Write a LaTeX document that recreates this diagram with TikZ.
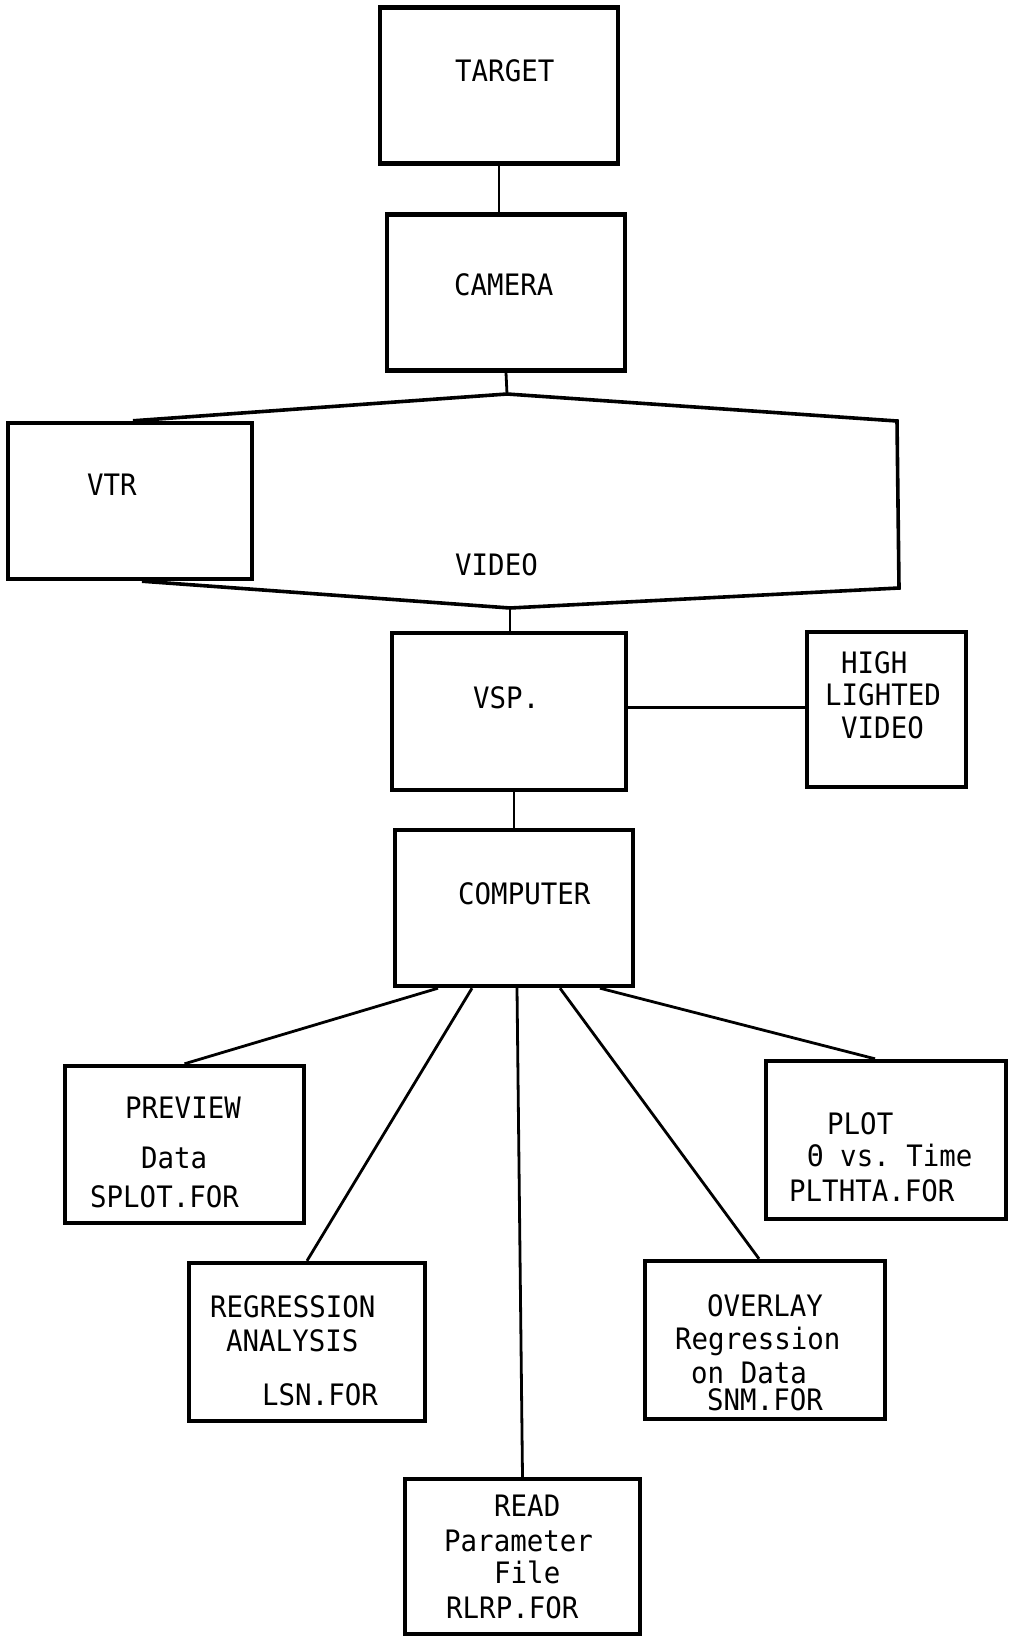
\documentclass[tikz,border=0pt]{standalone}
\usepackage{fontspec}
\newfontfamily\plotfont[FakeStretch=0.93]{DejaVu Sans Mono}
\usepackage{tikz}
\usetikzlibrary{positioning}

\begin{document}
\begin{tikzpicture}[x=1pt, y=-1pt,
    blk/.style={draw, line width=4.4pt, inner sep=0pt, minimum width=238pt, minimum height=156pt},
    txt/.style={inner sep=0pt, anchor=base west, align=left, font=\plotfont\fontsize{29.5}{32}\selectfont},
    link/.style={line width=2.8pt},
    hexa/.style={line width=3.6pt}]

    \useasboundingbox (0,0) rectangle (1013,1637);

    % catena principale
    \node[blk] (target) at (499,85.5) {};
    \node[blk] (camera) at (506,292.5) {};
    \node[blk, minimum width=244pt] (vtr) at (130,501) {};
    \node[blk, minimum width=234pt, minimum height=157pt] (vsp) at (509,711.5) {};
    \node[blk, minimum width=159pt, minimum height=155pt] (hlv) at (886.5,709.5) {};
    \node[blk] (computer) at (514,908) {};

    % programmi
    \node[blk, minimum width=239pt, minimum height=157pt] (preview) at (184.5,1144.5) {};
    \node[blk, minimum width=236pt, minimum height=158pt] (regress) at (307,1342) {};
    \node[blk, minimum width=235pt, minimum height=155pt] (readpar) at (522.5,1556.5) {};
    \node[blk, minimum width=240pt, minimum height=158pt] (overlay) at (765,1340) {};
    \node[blk, minimum width=240pt, minimum height=158pt] (plot) at (886,1140) {};

    % testi (base = ultima riga)
    \node[txt] (targettxt) at (455,82) {TARGET};
    \node[txt] (cameratxt) at (454,295) {CAMERA};
    \node[txt] (vtrtxt) at (87,495) {VTR};
    \node[txt] (videotxt) at (455,575) {VIDEO};
    \node[txt] (vsptxt) at (473,708) {VSP.};
    \node[txt] (hlvtxt) at (825,738) {\hspace*{16pt}HIGH\\LIGHTED\\[1pt]\hspace*{16pt}VIDEO};
    \node[txt] (computertxt) at (458,904) {COMPUTER};
    \node[txt] (previewtxt) at (90,1207) {\hspace*{35pt}PREVIEW\\[18pt]\hspace*{51pt}Data\\[7pt]SPLOT.FOR};
    \node[txt] (regresstxt) at (210,1405) {REGRESSION\\[2pt]\hspace*{16pt}ANALYSIS\\[22pt]\hspace*{52pt}LSN.FOR};
    \node[txt] (readpartxt) at (444,1618) {\hspace*{50pt}READ\\[3pt]Parameter\\\hspace*{50pt}File\\[3pt]\hspace*{2pt}RLRP.FOR};
    \node[txt] (overlaytxt) at (675,1410) {\hspace*{32pt}OVERLAY\\[1pt]Regression\\[2pt]\hspace*{16pt}on Data\\[-5pt]\hspace*{32pt}SNM.FOR};
    \node[txt] (plottxt) at (789,1201) {\hspace*{38pt}PLOT\\\hspace*{18pt}Θ vs.\ Time\\[3pt]PLTHTA.FOR};

    % riquadro video
    \coordinate (vtop) at (507,394);
    \coordinate (vrt) at (897,421);
    \coordinate (vrb) at (899,588);
    \coordinate (vbot) at (510,608);
    \draw[hexa] ([xshift=3pt]vtr.north) -- (vtop) -- (vrt) -- (vrb) -- (vbot) -- ([xshift=12pt]vtr.south);

    \draw[link] (target.south) -- (target.south |- camera.north);
    \draw[link] (camera.south) -- (vtop);
    \draw[link] (vbot) -- (vbot |- vsp.north);
    \draw[link] ([yshift=4pt]vsp.east) -- ([yshift=2pt]hlv.west);
    \draw[link] (computer.north |- vsp.south) -- (computer.north);

    \draw[link] ([xshift=-76pt]computer.south) -- (preview.north);
    \draw[link] ([xshift=-42pt]computer.south) -- (regress.north);
    \draw[link] ([xshift=3pt]computer.south) -- (readpar.north);
    \draw[link] ([xshift=46pt]computer.south) -- ([xshift=-6pt]overlay.north);
    \draw[link] ([xshift=86pt]computer.south) -- ([xshift=-11pt]plot.north);

\end{tikzpicture}
\end{document}
